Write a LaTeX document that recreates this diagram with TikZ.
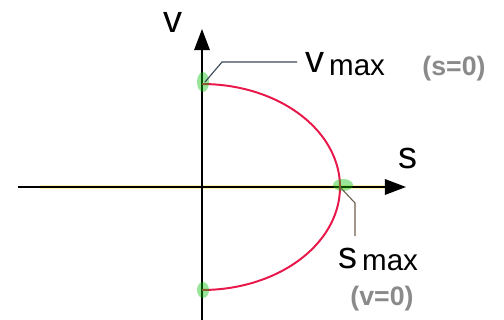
\documentclass[tikz,border=0pt]{standalone}
\usepackage{fontspec}
\setmainfont{Liberation Sans}
\usepackage{tikz}
\usetikzlibrary{arrows.meta, calc, positioning}
\usepackage{xcolor}
\definecolor{curvered}{HTML}{E8184A}
\definecolor{leadblue}{HTML}{3A4856}
\definecolor{leadbrown}{HTML}{6E6050}
\definecolor{labgray}{HTML}{8A8A8A}

\begin{document}
\begin{tikzpicture}[x=0.025cm, y=-0.025cm,
    axisline/.style={line width=1.3pt, black},
    tip/.style={-{Triangle[length=15pt, width=11pt]}},
    blob/.style={fill=green!75!black, opacity=0.4, draw=none},
    leader/.style={line width=0.8pt},
    biglab/.style={inner sep=0pt, font=\fontsize{27}{27}\selectfont},
    graylab/.style={inner sep=0pt, text=labgray, font=\fontsize{19}{19}\selectfont\bfseries}]
    \useasboundingbox (0,0) rectangle (504,320);

    % Punkte
    \coordinate (O) at (202,187);
    \coordinate (vtop) at (202,84);
    \coordinate (vbot) at (202,290);
    \coordinate (smax) at (340,187);

    % gelbe Markierung der s-Achse
    \draw[yellow!80!orange, line width=2.2pt, opacity=0.3] (40,187) -- (385,187);

    % Achsen
    \coordinate (xl) at (18,187);
    \coordinate (xr) at (406,187);
    \coordinate (yb) at (202,320);
    \coordinate (yt) at (202,29);
    \draw[axisline, tip] (xl) -- (xr);
    \draw[axisline, tip] (yb) -- (yt);
    \node[biglab] (vlab) at (173,22) {v};
    \node[biglab] (slab) at (408,158) {s};

    % Bremskurve
    \draw[curvered, line width=1.4pt, domain=90:-90, samples=100]
        plot ({202+138*cos(\x)}, {187-103*sin(\x)});

    % gruene Flecken
    \fill[blob] (203,82) ellipse (6 and 10);
    \fill[blob] (203,290) ellipse (6 and 8);
    \fill[blob] (343,185) ellipse (10 and 6);

    % Beschriftung v max
    \node[biglab, anchor=base west] (vmaxlab) at (305,73)
        {v\raisebox{-2pt}{\fontsize{21}{21}\selectfont\,max}};
    \coordinate (vk) at (222,62);
    \draw[leadblue, leader] (205,82) -- (vk) -- (297,62);
    \node[graylab] (s0) at (454,69) {(s=0)};

    % Beschriftung s max
    \node[biglab, anchor=base west] (smaxlab) at (338,268)
        {s\raisebox{-2pt}{\fontsize{21}{21}\selectfont\,max}};
    \coordinate (sk) at (355,203);
    \draw[leadbrown, leader] (smax) -- (sk) -- (355,236);
    \node[graylab] (v0) at (382,299) {(v=0)};
\end{tikzpicture}
\end{document}
